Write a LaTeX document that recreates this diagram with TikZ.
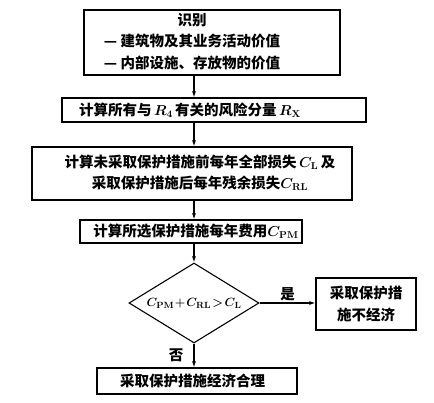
\documentclass[tikz,border=0pt]{standalone}
\usepackage[no-math]{fontspec}
\setmainfont{Noto Sans CJK SC}
\usetikzlibrary{arrows.meta,shapes.geometric}

\begin{document}
\begin{tikzpicture}[
  x=1pt, y=-1pt,
  font=\fontsize{14.5}{21.5}\selectfont\bfseries\boldmath,
  >={Latex[length=6pt,width=4pt]},
  line width=1.1pt,
  box/.style={draw, inner sep=0pt, align=center},
  test/.style={draw, diamond, aspect=1.6, inner sep=0pt,
               minimum width=130pt, minimum height=80pt,
               font=\fontsize{12.5}{15}\selectfont\bfseries\boldmath},
  lbl/.style={inner sep=2pt},
]
\useasboundingbox (0,0) rectangle (434,402);
\coordinate (ax) at (194,0);
% main chain (top to bottom)
\node[box, minimum width=256pt, minimum height=65pt] (ident) at (212,42.5)
  {\begin{tabular}{@{}c@{}}识别\\— 建筑物及其业务活动价值\\— 内部设施、存放物的价值\end{tabular}\hspace{40pt}};
\node[box, minimum width=304pt, minimum height=24pt] (risk) at (214,110)
  {计算所有与\,$R_4$\,有关的风险分量\,$R_{\mathrm{X}}$\hspace{48pt}};
\node[box, minimum width=320pt, minimum height=53pt] (loss) at (192,173.5)
  {\hspace{16pt}\begin{tabular}{@{}c@{}}计算未采取保护措施前每年全部损失\,$C_{\mathrm{L}}$\,及\\采取保护措施后每年残余损失$C_{\mathrm{RL}}$\end{tabular}};
\node[box, minimum width=222pt, minimum height=23pt] (cost) at (191,231.5)
  {\hspace{10pt}计算所选保护措施每年费用$C_{\mathrm{PM}}$};
\node[test] (cmp) at (194,303)
  {$C_{\mathrm{PM}}\!+\!C_{\mathrm{RL}}\!>\!C_{\mathrm{L}}$};
\node[box, minimum width=100pt, minimum height=52pt] (no) at (366,304)
  {采取保护措\\施不经济};
\node[box, minimum width=200pt, minimum height=26pt] (yes) at (197,381)
  {采取保护措施经济合理\hspace{9pt}};
\draw[->] (ident.south -| ax) -- (risk.north -| ax);
\draw[->] (risk.south -| ax) -- (loss.north -| ax);
\draw[->] (loss.south -| ax) -- (cost.north -| ax);
\draw[->] (cost.south -| ax) -- (cmp.north);
% decision branches
\draw[->] (cmp.east) -- node[above, lbl] {是} (cmp.east -| no.west);
\draw[->] (cmp.south) -- node[left, lbl, xshift=-8pt] {否} (yes.north -| cmp.south);
\end{tikzpicture}
\end{document}
